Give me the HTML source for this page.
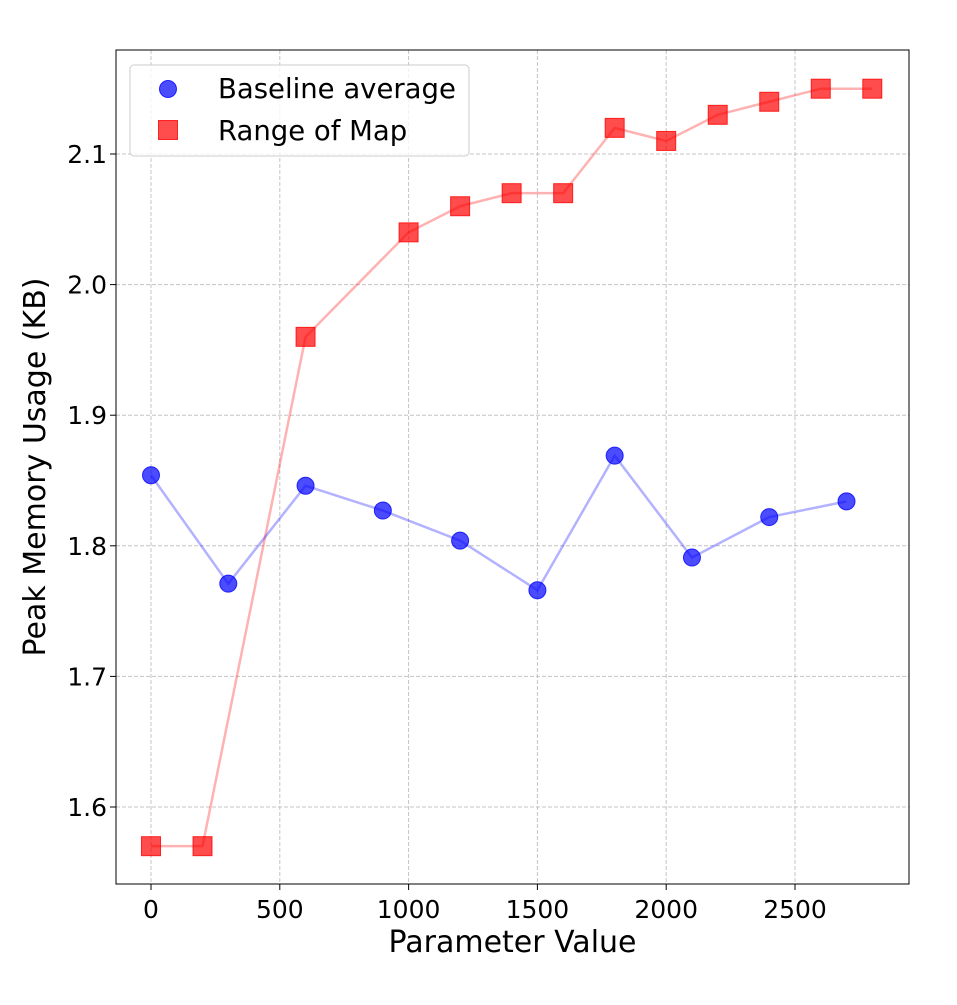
<!DOCTYPE html>
<html><head><meta charset="utf-8"><style>
body{margin:0;background:#fff}
svg{display:block;font-family:"DejaVu Sans","Liberation Sans",sans-serif}
</style></head><body>
<svg id="chart" width="957" height="1005"></svg>
<script>
const blueX=[0,300,600,900,1200,1500,1800,2100,2400,2700];
const blueY=[1.854,1.771,1.846,1.827,1.804,1.766,1.869,1.791,1.822,1.834];
const redX=[0,200,600,1000,1200,1400,1600,1800,2000,2200,2400,2600,2800];
const redY=[1.57,1.57,1.96,2.04,2.06,2.07,2.07,2.12,2.11,2.13,2.14,2.15,2.15];
const xTicks=[0,500,1000,1500,2000,2500];
const yTicks=[1.6,1.7,1.8,1.9,2.0,2.1];
const yTickLabels=["1.6","1.7","1.8","1.9","2.0","2.1"];

const L=116,R=909,T=50,B=884;
const sx=v=>151+v*(644/2500);
const sy=v=>807-(v-1.6)*1306;
const svg=document.getElementById('chart');
const NS='http://www.w3.org/2000/svg';
function mk(tag,attrs,parent){const e=document.createElementNS(NS,tag);for(const k in attrs)e.setAttribute(k,attrs[k]);(parent||svg).appendChild(e);return e;}

const grid=mk('g',{});


xTicks.forEach(t=>{
  mk('line',{x1:sx(t),x2:sx(t),y1:T,y2:B,stroke:'#c4c4c4','stroke-dasharray':'4,2','stroke-width':1},grid);
  mk('line',{x1:sx(t),x2:sx(t),y1:B,y2:B+6,stroke:'#000','stroke-width':1});
  const tx=mk('text',{x:sx(t),y:B+34,'text-anchor':'middle','font-size':25});
  tx.textContent=t;
  
  
});
yTicks.forEach((t,i)=>{
  mk('line',{x1:L,x2:R,y1:sy(t),y2:sy(t),stroke:'#c4c4c4','stroke-dasharray':'4,2','stroke-width':1},grid);
  mk('line',{x1:L-6,x2:L,y1:sy(t),y2:sy(t),stroke:'#000','stroke-width':1});
  const tx=mk('text',{x:L-9,y:sy(t)+9,'text-anchor':'end','font-size':25});
  tx.textContent=yTickLabels[i];
  
  
});
const frame=mk('rect',{x:L,y:T,width:R-L,height:B-T,fill:'none',stroke:'#000','stroke-width':1});



const rl=mk('polyline',{points:redX.map((x,i)=>sx(x)+','+sy(redY[i])).join(' '),fill:'none',stroke:'#ff0000','stroke-opacity':0.3,'stroke-width':2.5});


redX.forEach((x,i)=>{
  const r=mk('rect',{x:sx(x)-9.5,y:sy(redY[i])-9.5,width:19,height:19,fill:'#ff0000','fill-opacity':0.7,stroke:'#ff0000','stroke-opacity':0.8});
  
  
});
const bl=mk('polyline',{points:blueX.map((x,i)=>sx(x)+','+sy(blueY[i])).join(' '),fill:'none',stroke:'#0000ff','stroke-opacity':0.3,'stroke-width':2.5});


blueX.forEach((x,i)=>{
  const c=mk('circle',{cx:sx(x),cy:sy(blueY[i]),r:8.5,fill:'#0000ff','fill-opacity':0.7,stroke:'#0000ff','stroke-opacity':0.8});
  
  
});

const xl=mk('text',{x:(L+R)/2,y:952,'text-anchor':'middle','font-size':30});
xl.textContent='Parameter Value';


const yl=mk('text',{x:0,y:0,'text-anchor':'middle','font-size':30,transform:'translate(45,467) rotate(-90)'});
yl.textContent='Peak Memory Usage (KB)';



const lg=mk('g',{});


mk('rect',{x:130,y:65,width:339,height:91,rx:4,fill:'#fff','fill-opacity':0.8,stroke:'#ccc'},lg);
mk('circle',{cx:168,cy:89,r:8.5,fill:'#0000ff','fill-opacity':0.7,stroke:'#0000ff','stroke-opacity':0.8},lg);
mk('rect',{x:158.5,y:120.5,width:19,height:19,fill:'#ff0000','fill-opacity':0.7,stroke:'#ff0000','stroke-opacity':0.8},lg);
const t1=mk('text',{x:218,y:98,'font-size':27.5},lg);t1.textContent='Baseline average';


const t2=mk('text',{x:218,y:140,'font-size':27.5},lg);t2.textContent='Range of Map';


</script>
</body></html>
